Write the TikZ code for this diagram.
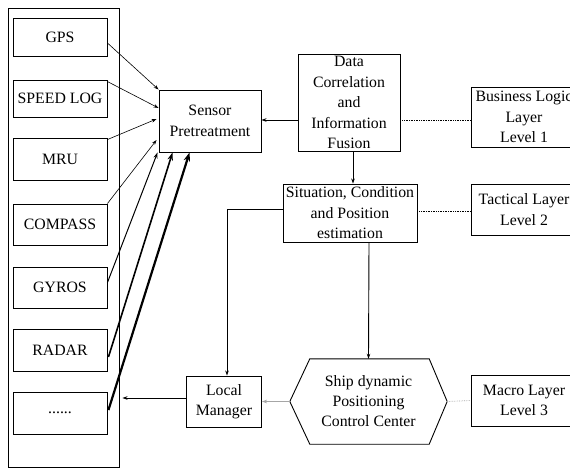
\documentclass[tikz,border=0pt]{standalone}
\usepackage{fontspec}
\setmainfont{Liberation Serif}
\usetikzlibrary{calc,arrows.meta}
\begin{document}
\begin{tikzpicture}[x=1pt,y=-1pt,
  box/.style={draw,line width=0.9pt,inner sep=0pt,align=center,font=\fontsize{15.8}{20.5}\selectfont},
  sens/.style={box,minimum width=94,minimum height=40},
  lay/.style={box,minimum width=106},
  thin/.style={line width=0.6pt,-{Stealth[length=5pt,width=3.5pt]}},
  arr/.style={line width=0.9pt,-{Stealth[length=5pt,width=3.5pt]}},
  dotl/.style={line width=0.7pt,densely dotted},
  grayl/.style={line width=0.8pt,draw=gray!70}]
\clip (0,0) rectangle (570,468);
\useasboundingbox (0,0) rectangle (570,468);
\fill[white] (0,0) rectangle (570,468);
% outer container
\node[box,minimum width=111,minimum height=459] (outer) at (63.5,237.5) {};
% sensors
\node[sens,minimum height=38] (gps) at (60,37) {GPS};
\node[sens,minimum height=37] (speed) at (60,98.5) {SPEED LOG};
\node[sens,minimum height=42] (mru) at (60,159) {MRU};
\node[sens,minimum height=41] (compass) at (60,224.5) {COMPASS};
\node[sens,minimum height=41] (gyros) at (60,287.5) {GYROS};
\node[sens,minimum height=42] (radar) at (60,350) {RADAR};
\node[sens,minimum height=42] (dots) at (60,413) {......};
% main boxes
\node[box,minimum width=102,minimum height=62] (sensor) at (210,121) {Sensor\\Pretreatment};
\node[box,minimum width=102,minimum height=97] (data) at (349,102.5) {Data\\Correlation\\and\\Information\\Fusion};
\node[box,minimum width=134,minimum height=58] (sit) at (350,213) {Situation, Condition\\and Position\\estimation};
\node[box,minimum width=75,minimum height=51] (lm) at (224,401.5) {Local\\Manager};
% hexagon
\node[inner sep=0pt,minimum width=157,minimum height=85,align=center,font=\fontsize{15.8}{20}\selectfont] (hex) at (368.5,401.5) {Ship dynamic\\Positioning\\Control Center};
\draw[line width=0.9pt] (hex.west) -- ($(hex.north west)+(20,0)$) -- ($(hex.north east)+(-18,0)$) -- (hex.east) -- ($(hex.south east)+(-18,0)$) -- ($(hex.south west)+(20,0)$) -- cycle;
% layers
\node[lay,minimum height=60] (bus) at (524,117) {Business Logic\\Layer\\Level 1};
\node[lay,minimum height=51] (tac) at (524,209.5) {Tactical Layer\\Level 2};
\node[lay,minimum height=51] (macro) at (524,400.5) {Macro Layer\\Level 3};
% sensor connectors
\draw[thin] ($(gps.east)+(0,6)$) -- (sensor.north west);
\draw[thin] ($(speed.north east)+(0,2)$) -- ($(sensor.west)+(0,-13)$);
\draw[thin] ($(mru.north east)+(0,2)$) -- ($(sensor.west)+(-2,-2)$);
\draw[thin] (compass.north east) -- ($(sensor.west)+(-2,19)$);
\draw[line width=1pt,-{Stealth[length=6pt,width=4pt]}] ($(gyros.east)+(0,-5)$) -- ($(sensor.south west)+(-1,0)$);
\draw[line width=1.6pt,-{Stealth[length=8pt,width=5.5pt]}] ($(radar.east)+(1,7)$) -- ($(sensor.south west)+(14,0)$);
\draw[line width=2.2pt,-{Stealth[length=9pt,width=6.5pt]}] ($(dots.east)+(1,-3)$) -- ($(sensor.south west)+(31,0)$);
% flow
\draw[arr] ($(data.west)+(0,17.5)$) -- ($(sensor.east)+(0,-1)$);
\draw[arr] ($(data.south)+(4,0)$) -- ($(sit.north)+(3,0)$);
\draw[arr] ($(sit.west)+(0,-4)$) -| ($(lm.north)+(3,0)$);
\draw[arr] ($(sit.south)+(19,0)$) -- (hex.north);
\draw[grayl,-{Stealth[length=5pt,width=3.5pt]}] (hex.west) -- (lm.east);
\draw[arr] ($(lm.west)+(0,-3.5)$) -- ($(outer.east |- lm.west)+(3,-3.5)$);
% dotted layer links
\draw[dotl] ($(data.east)+(0,17.5)$) -- ($(bus.west)+(0,3)$);
\draw[dotl] ($(sit.east)+(0,-2)$) -- ($(tac.west)+(0,1.5)$);
\draw[dotl,draw=gray!70] (hex.east) -- (macro.west);
\end{tikzpicture}
\end{document}
